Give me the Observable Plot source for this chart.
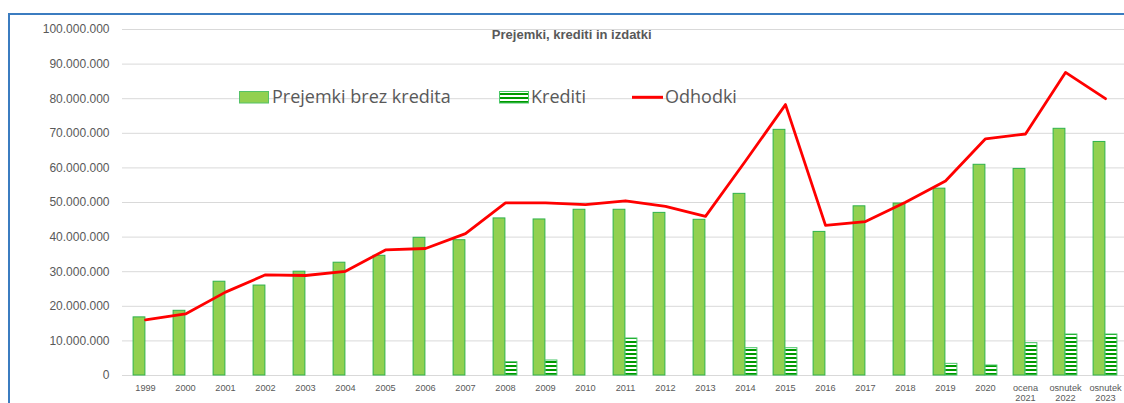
<!DOCTYPE html>
<html>
<head>
<meta charset="utf-8">
<script src="https://cdn.jsdelivr.net/npm/d3@7"></script>
<script src="https://cdn.jsdelivr.net/npm/@observablehq/plot@0.6"></script>
<style>
  html, body { margin: 0; padding: 0; background: #ffffff; overflow: hidden; }
  #wrap { position: relative; width: 1124px; height: 403px; overflow: hidden; background: #ffffff; }
  #chart { position: absolute; left: 0; top: 0; width: 1130px; }
  #chart svg { max-width: none !important; }
  #overlay { position: absolute; left: 0; top: 0; pointer-events: none; }
</style>
</head>
<body>
<div id="wrap">
  <div id="chart"></div>
  <svg id="overlay" width="1124" height="403"></svg>
</div>
<script>
// ---- Data ----
const categories = ["1999","2000","2001","2002","2003","2004","2005","2006","2007","2008",
  "2009","2010","2011","2012","2013","2014","2015","2016","2017","2018","2019","2020",
  "ocena\n2021","osnutek\n2022","osnutek\n2023"];

const prejemkiBrezKredita = [16800000,18700000,27100000,26000000,30000000,32600000,34600000,39800000,39100000,45400000,
  45100000,47900000,47900000,47000000,45000000,52500000,71000000,41500000,48900000,49700000,54000000,60900000,
  59700000,71300000,67500000];

const krediti = [0,0,0,0,0,0,0,0,0,3840000,
  4340000,0,10700000,0,0,7900000,7900000,0,0,0,3370000,2890000,
  9340000,11850000,11850000];

const odhodki = [16100000,17800000,24100000,29100000,28900000,30100000,36300000,36700000,41000000,49900000,
  49900000,49400000,50500000,48900000,46000000,62000000,78300000,43400000,44500000,50100000,56200000,68400000,
  69800000,87600000,80000000];

const yTicks = [0,10000000,20000000,30000000,40000000,50000000,60000000,70000000,80000000,90000000,100000000];

const titleText = "Prejemki, krediti in izdatki";
const seriesNames = ["Prejemki brez kredita", "Krediti", "Odhodki"];

// ---- Build table ----
const rows = categories.map((c, i) => ({c, p: prejemkiBrezKredita[i], k: krediti[i], o: odhodki[i]}));
const fmt = d3.formatLocale({decimal: ",", thousands: ".", grouping: [3], currency: ["", ""]}).format(",.0f");

const textCol = "#595959";
const greenFill = "#92d050";
const greenStroke = "#2fb24c";
const kreditStroke = "#4cc86a";

const plot = Plot.plot({
  width: 1130,
  height: 403,
  marginLeft: 122,
  marginRight: 3,
  marginTop: 29,
  marginBottom: 28,
  style: {fontFamily: "'Liberation Sans', Arial, sans-serif", color: textCol, background: "transparent", overflow: "visible", maxWidth: "none"},
  x: {domain: categories, padding: 0, label: null},
  y: {domain: [0, 100000000], label: null},
  marks: [
    Plot.ruleY(yTicks, {stroke: "#d9d9d9", strokeWidth: 1}),
    Plot.barY(rows.filter(d => d.p > 0), {x: "c", y: "p", fill: greenFill, stroke: greenStroke, strokeWidth: 1, insetLeft: 8.1, insetRight: 20.1}),
    Plot.barY(rows.filter(d => d.k > 0), {x: "c", y: "k", fill: "url(#kreditStripes)", stroke: kreditStroke, strokeWidth: 1, insetLeft: 20.1, insetRight: 8.1}),
    Plot.line(rows, {x: "c", y: "o", stroke: "#ff0000", strokeWidth: 2.8, strokeLinejoin: "round", strokeLinecap: "round"}),
    Plot.axisY(yTicks, {tickSize: 0, tickPadding: 13, tickFormat: fmt, fontSize: 12, fill: textCol, label: null}),
    Plot.axisX({tickSize: 0, tickPadding: 8, fontSize: 9.2, lineHeight: 1.1, fill: textCol, label: null})
  ]
});
plot.style.maxWidth = "none";
plot.style.width = "1130px";
plot.style.height = "403px";
document.getElementById("chart").appendChild(plot);

// ---- Overlay: pattern, frame, title, legend ----
const ov = d3.select("#overlay");
const defs = ov.append("defs");
const pat = defs.append("pattern")
  .attr("id", "kreditStripes")
  .attr("patternUnits", "userSpaceOnUse")
  .attr("x", 0).attr("y", 1)
  .attr("width", 8).attr("height", 4);
pat.append("rect").attr("x", 0).attr("y", 0).attr("width", 8).attr("height", 4).attr("fill", "#ffffff");
pat.append("rect").attr("x", 0).attr("y", 0).attr("width", 8).attr("height", 2).attr("fill", "#009a00");

// chart frame (left and top edges visible)
ov.append("line").attr("x1", 9).attr("x2", 9).attr("y1", 13).attr("y2", 403)
  .attr("stroke", "#3b7cc0").attr("stroke-width", 2);
ov.append("line").attr("x1", 8).attr("x2", 1124).attr("y1", 14).attr("y2", 14)
  .attr("stroke", "#3b7cc0").attr("stroke-width", 2);

// title
ov.append("text")
  .attr("x", 571.7).attr("y", 39.3)
  .attr("text-anchor", "middle")
  .attr("font-family", "'Liberation Sans', Arial, sans-serif")
  .attr("font-weight", "bold")
  .attr("font-size", 13)
  .attr("fill", textCol)
  .text(titleText);

// legend
const legFont = "'Open Sans', 'Liberation Sans', sans-serif";
ov.append("rect").attr("x", 239.5).attr("y", 91.5).attr("width", 29).attr("height", 11.5)
  .attr("fill", greenFill).attr("stroke", "#55c267").attr("stroke-width", 1);
ov.append("text").attr("x", 272).attr("y", 102.7).attr("font-family", legFont).attr("font-size", 18)
  .attr("fill", textCol).text(seriesNames[0]);

ov.append("rect").attr("x", 499.5).attr("y", 91.5).attr("width", 29).attr("height", 11.5)
  .attr("fill", "url(#kreditStripes)").attr("stroke", kreditStroke).attr("stroke-width", 1);
ov.append("text").attr("x", 531).attr("y", 102.7).attr("font-family", legFont).attr("font-size", 18)
  .attr("fill", textCol).text(seriesNames[1]);

ov.append("line").attr("x1", 632).attr("x2", 663).attr("y1", 97.3).attr("y2", 97.3)
  .attr("stroke", "#ff0000").attr("stroke-width", 3);
ov.append("text").attr("x", 665).attr("y", 102.7).attr("font-family", legFont).attr("font-size", 18)
  .attr("fill", textCol).text(seriesNames[2]);
</script>
</body>
</html>
